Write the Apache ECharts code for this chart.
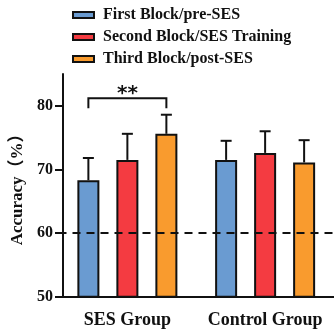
<!DOCTYPE html>
<html>
<head>
<meta charset="utf-8">
<script src="https://cdn.jsdelivr.net/npm/echarts@6/dist/echarts.min.js"></script>
<style>
  html, body { margin: 0; padding: 0; background: #fff; }
  #chart { width: 334px; height: 332px; }
</style>
</head>
<body>
<div id="chart"></div>
<script>
// Accuracy per block, for each group
const groups = ['SES Group', 'Control Group'];
const blockNames = ['First Block/pre-SES', 'Second Block/SES Training', 'Third Block/post-SES'];
const blockColors = ['#6A9BD1', '#F43B41', '#F99B2E'];
const firstBlock = [68.3, 71.5];
const secondBlock = [71.5, 72.6];
const thirdBlock = [75.6, 71.1];
// upper error (SD) for each bar
const firstErr = [3.5, 3.0];
const secondErr = [4.1, 3.4];
const thirdErr = [3.0, 3.5];
const chanceLevel = 60;
const yTicks = [50, 60, 70, 80];
// significance bracket: SES group, first vs third block
const sigGroup = 0;
const sigFrom = 0;
const sigTo = 2;
const sigLevel = 81.2;
const sigText = '**';

const means = [firstBlock, secondBlock, thirdBlock];
const errs = [firstErr, secondErr, thirdErr];

const BAR_W = 22;
const BAR_GAP = 17;
const STEP = BAR_W + BAR_GAP;
const FONT = '"Liberation Serif", "Times New Roman", "Noto Sans CJK SC", serif';

function barOffset(k) { return (k - 1) * STEP; }

const chart = echarts.init(document.getElementById('chart'));

const barSeries = blockNames.map((name, k) => ({
  name: name,
  type: 'bar',
  data: means[k],
  barWidth: BAR_W,
  barGap: (BAR_GAP / BAR_W * 100) + '%',
  itemStyle: { color: blockColors[k], borderColor: '#111', borderWidth: 2 },
  z: 2,
  markLine: k === 0 ? {
    silent: true,
    symbol: 'none',
    label: { show: false },
    lineStyle: { color: '#111', width: 2, type: [8, 6] },
    data: [{ yAxis: chanceLevel }]
  } : undefined
}));

// upward error whiskers with caps
const errData = [];
for (let k = 0; k < 3; k++) {
  for (let g = 0; g < groups.length; g++) {
    errData.push([g, means[k][g], means[k][g] + errs[k][g], k]);
  }
}
const errSeries = {
  type: 'custom',
  data: errData,
  z: 3,
  silent: true,
  renderItem: function (params, api) {
    const g = api.value(0);
    const k = api.value(3);
    const base = api.coord([g, api.value(1)]);
    const top = api.coord([g, api.value(2)]);
    const x = base[0] + barOffset(k);
    const style = { stroke: '#111', lineWidth: 2 };
    return {
      type: 'group',
      children: [
        { type: 'line', shape: { x1: x, y1: base[1], x2: x, y2: top[1] }, style: style },
        { type: 'line', shape: { x1: x - 5.5, y1: top[1], x2: x + 5.5, y2: top[1] }, style: style }
      ]
    };
  }
};

const sigSeries = {
  type: 'custom',
  data: [[sigGroup, sigLevel]],
  z: 4,
  silent: true,
  renderItem: function (params, api) {
    const p = api.coord([api.value(0), api.value(1)]);
    const x1 = p[0] + barOffset(sigFrom);
    const x2 = p[0] + barOffset(sigTo);
    const legY = api.coord([api.value(0), sigLevel - 1.6])[1];
    return {
      type: 'group',
      children: [
        {
          type: 'polyline',
          shape: { points: [[x1, legY], [x1, p[1]], [x2, p[1]], [x2, legY]] },
          style: { stroke: '#111', lineWidth: 2, fill: null }
        },
        {
          type: 'text',
          x: (x1 + x2) / 2,
          y: p[1] - 4,
          style: {
            text: sigText,
            fill: '#111',
            font: 'bold 20px "DejaVu Sans", sans-serif',
            align: 'center',
            verticalAlign: 'middle'
          }
        }
      ]
    };
  }
};

chart.setOption({
  animation: false,
  backgroundColor: '#fff',
  legend: {
    orient: 'vertical',
    left: 67,
    top: 2,
    itemWidth: 21,
    itemHeight: 6,
    itemGap: 6,
    icon: 'rect',
    data: blockNames,
    textStyle: {
      fontFamily: FONT,
      fontWeight: 'bold',
      fontSize: 16,
      lineHeight: 16,
      color: '#111',
      padding: [0, 0, 0, 4]
    }
  },
  grid: { left: 58.5, right: -8.5, top: 74, bottom: 35.3, containLabel: false },
  xAxis: {
    type: 'category',
    data: groups,
    axisLine: { lineStyle: { color: '#111', width: 2 } },
    axisTick: { alignWithLabel: true, length: 8, lineStyle: { color: '#111', width: 2 } },
    axisLabel: {
      interval: 0,
      hideOverlap: false,
      fontFamily: FONT, fontWeight: 'bold', fontSize: 18, color: '#111', margin: 15
    }
  },
  yAxis: {
    type: 'value',
    min: 50,
    max: 85,
    interval: 10,
    offset: -4.5,
    name: 'Accuracy（%）',
    nameLocation: 'middle',
    nameGap: 37,
    nameTextStyle: { fontFamily: FONT, fontWeight: 'bold', fontSize: 17, color: '#111' },
    axisLine: { show: true, lineStyle: { color: '#111', width: 2 } },
    axisTick: { show: true, length: 8, customValues: yTicks, lineStyle: { color: '#111', width: 2 } },
    axisLabel: {
      customValues: yTicks,
      fontFamily: FONT, fontWeight: 'bold', fontSize: 16, color: '#111', margin: 10
    },
    splitLine: { show: false }
  },
  series: barSeries.concat([errSeries, sigSeries])
});
</script>
</body>
</html>
